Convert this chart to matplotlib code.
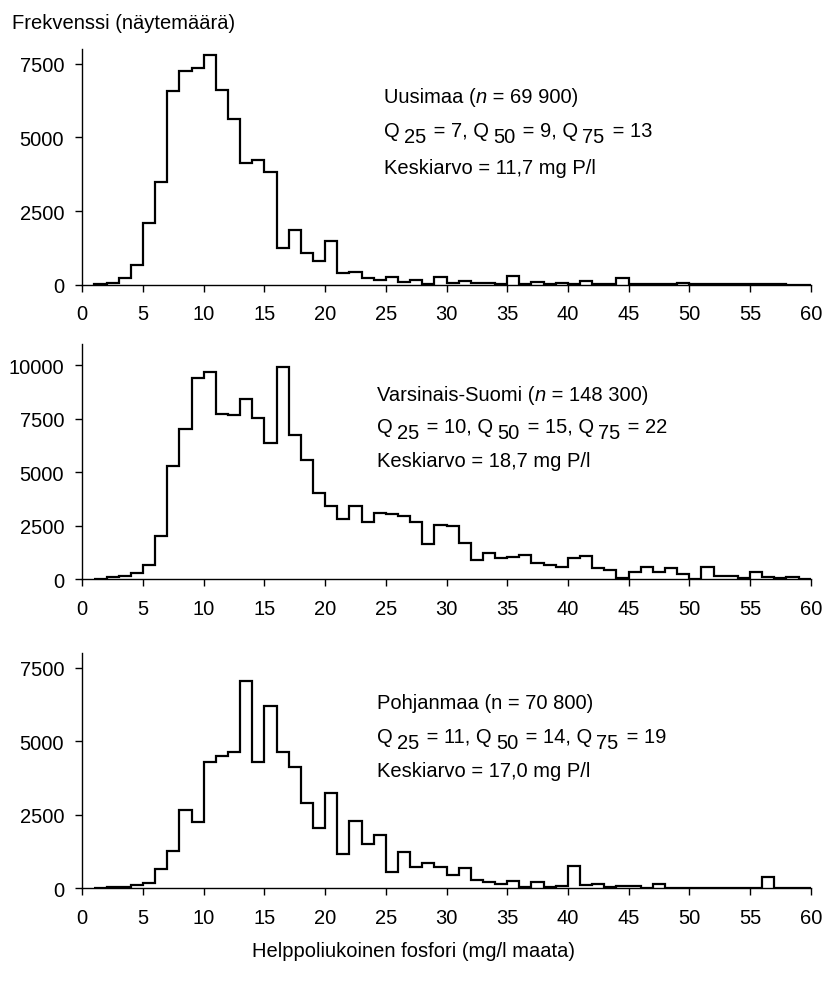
import matplotlib
matplotlib.use('Agg')
import matplotlib.pyplot as plt
import numpy as np

W, H = 829, 987
plt.rcParams['font.family'] = ['Liberation Sans', 'DejaVu Sans']

# bin edges 1..60 mg/l, width 1
bin_edges = list(range(1, 61))

uusimaa = [20, 50, 215, 670, 2100, 3500, 6570, 7240, 7370, 7800,
           6620, 5630, 4130, 4220, 3840, 1230, 1870, 1070, 800, 1500,
           410, 430, 215, 170, 260, 80, 150, 35, 260, 45,
           125, 60, 70, 25, 290, 10, 90, 15, 60, 15,
           135, 15, 15, 225, 10, 10, 10, 20, 45, 15,
           10, 10, 10, 10, 10, 10, 10, 5, 5]

varsinais_suomi = [30, 110, 140, 310, 690, 2010, 5300, 7020, 9420, 9700,
                   7750, 7690, 8440, 7520, 6380, 9940, 6730, 5560, 4020, 3420,
                   2810, 3420, 2700, 3100, 3040, 2950, 2700, 1640, 2530, 2500,
                   1720, 920, 1230, 980, 1030, 1120, 780, 670, 580, 980,
                   1090, 550, 420, 80, 360, 580, 360, 530, 230, 30,
                   580, 160, 160, 50, 340, 125, 80, 95, 30]

pohjanmaa = [25, 45, 57, 115, 195, 640, 1260, 2650, 2240, 4310,
             4500, 4640, 7050, 4300, 6200, 4640, 4130, 2910, 2050, 3250,
             1150, 2300, 1510, 1820, 545, 1230, 740, 870, 740, 465,
             690, 285, 205, 150, 260, 57, 205, 57, 68, 770,
             115, 135, 35, 68, 90, 25, 150, 25, 25, 25,
             15, 15, 20, 15, 15, 375, 15, 15, 15]

x_ticks = list(range(0, 61, 5))
y_ticks_1 = [0, 2500, 5000, 7500]
y_ticks_2 = [0, 2500, 5000, 7500, 10000]
y_ticks_3 = [0, 2500, 5000, 7500]

ylabel_text = "Frekvenssi (näytemäärä)"
xlabel_text = "Helppoliukoinen fosfori (mg/l maata)"

FS = 14.5

fig = plt.figure(figsize=(W / 100, H / 100), dpi=100)

def fx(px):
    return px / W

def fy(py):
    return 1 - py / H

X0, X1 = 82.3, 810.7
panels = [
    (uusimaa, 8000, y_ticks_1, 50, 285.7),
    (varsinais_suomi, 11000, y_ticks_2, 345, 580.3),
    (pohjanmaa, 8000, y_ticks_3, 654, 889.3),
]

axes = []
for vals, ytop, yt, ptop, pbot in panels:
    ax = fig.add_axes([fx(X0), fy(pbot), (X1 - X0) / W, (pbot - ptop) / H])
    ax.stairs(vals, bin_edges, baseline=0, color='black', lw=1.6)
    ax.set_xlim(0, 60)
    ax.set_ylim(0, ytop)
    ax.set_xticks(x_ticks)
    ax.set_yticks(yt)
    ax.set_yticklabels([str(v) for v in yt])
    for s in ['top', 'right']:
        ax.spines[s].set_visible(False)
    for s in ['left', 'bottom']:
        ax.spines[s].set_linewidth(1.0)
    ax.tick_params(axis='both', direction='out', length=5, width=1,
                   labelsize=FS, colors='black')
    ax.tick_params(axis='x', pad=9)
    ax.tick_params(axis='y', pad=8)
    ax.patch.set_alpha(0)
    axes.append(ax)


def rich_line(ax, x_px, y_px, pieces):
    """pieces: list of (text, dx_px, dy_px, style)"""
    first = fig.text(fx(x_px), fy(y_px), pieces[0][0], ha='left', va='baseline',
                     fontsize=FS, style=pieces[0][3])
    prev = first
    for txt, dx, dy, style in pieces[1:]:
        prev = ax.annotate(txt, xy=(1, 0), xycoords=(prev, first),
                           xytext=(dx, dy), textcoords='offset pixels',
                           ha='left', va='bottom', fontsize=FS, style=style,
                           annotation_clip=False)
    return first


def q_line(ax, x_px, y_px, q25, q50, q75):
    rich_line(ax, x_px, y_px, [
        ("Q", 0, 0, 'normal'),
        ("25", 4, -6, 'normal'),
        (f" = {q25}, Q", 2, 0, 'normal'),
        ("50", 4, -6, 'normal'),
        (f" = {q50}, Q", 2, 0, 'normal'),
        ("75", 4, -6, 'normal'),
        (f" = {q75}", 2, 0, 'normal'),
    ])

# Panel 1 annotations
rich_line(axes[0], 384, 102.7, [("Uusimaa (", 0, 0, 'normal'), ("n", 0, 0, 'italic'),
                                 (" = 69 900)", 0, 0, 'normal')])
q_line(axes[0], 384, 137.3, 7, 9, 13)
fig.text(fx(384), fy(174), "Keskiarvo = 11,7 mg P/l", ha='left', va='baseline', fontsize=FS)

# Panel 2 annotations
rich_line(axes[1], 377.3, 400.7, [("Varsinais-Suomi (", 0, 0, 'normal'), ("n", 0, 0, 'italic'),
                                   (" = 148 300)", 0, 0, 'normal')])
q_line(axes[1], 377.3, 433.3, 10, 15, 22)
fig.text(fx(377.3), fy(467.3), "Keskiarvo = 18,7 mg P/l", ha='left', va='baseline', fontsize=FS)

# Panel 3 annotations
fig.text(fx(377.3), fy(709.3), "Pohjanmaa (n = 70 800)", ha='left', va='baseline', fontsize=FS)
q_line(axes[2], 377.3, 743.3, 11, 14, 19)
fig.text(fx(377.3), fy(776.7), "Keskiarvo = 17,0 mg P/l", ha='left', va='baseline', fontsize=FS)

# axis titles
fig.text(fx(11.7), fy(29.3), ylabel_text, ha='left', va='baseline', fontsize=FS)
fig.text(fx(414), fy(957), xlabel_text, ha='center', va='baseline', fontsize=FS)

fig.savefig('out.png', dpi=100)
